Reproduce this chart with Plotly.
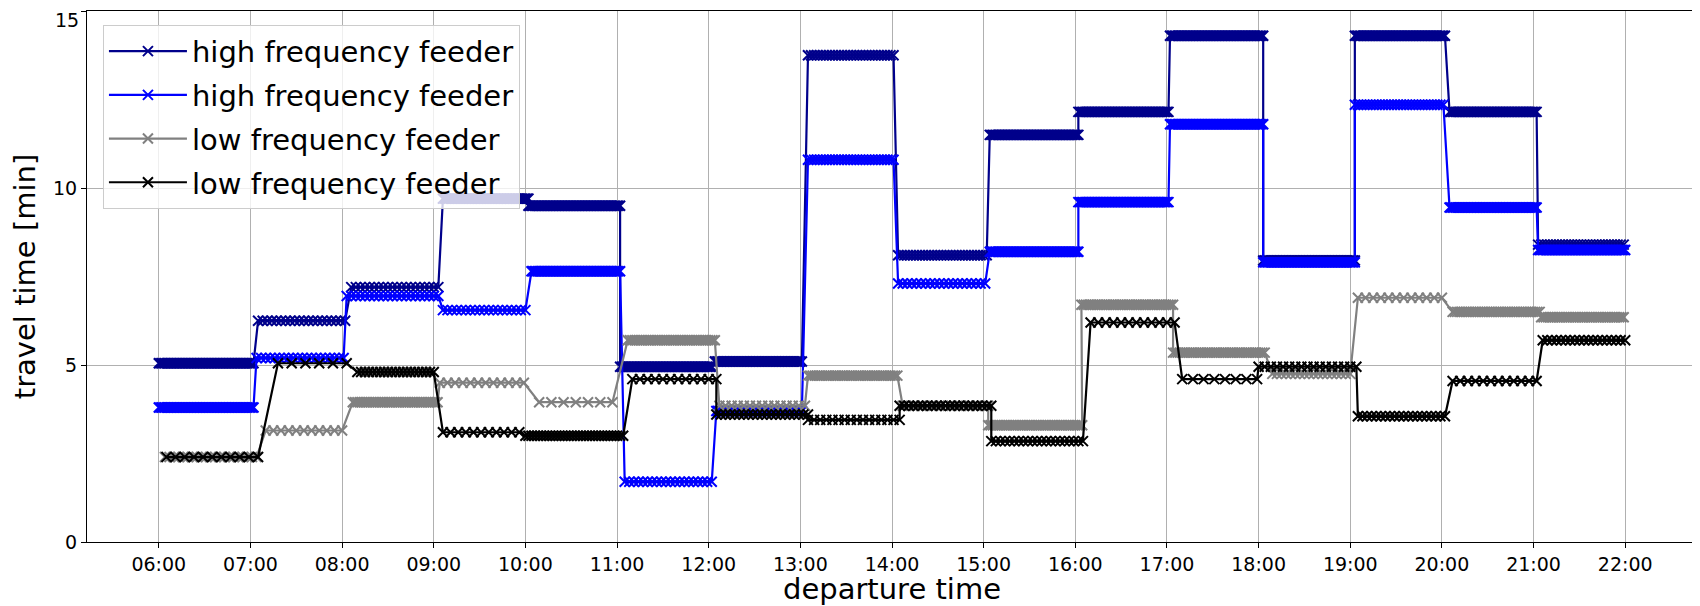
import plotly.graph_objects as go
import pandas as pd

# ---------------- data ----------------
HOURS = list(range(6, 22))  # hourly blocks 06:00 ... 21:00
TICK_LABELS = [f"{h:02d}:00" for h in range(6, 23)]
Y_TICKS = [0, 5, 10, 15]
Y_TICK_LABELS = ["0", "5", "10", "15"]

SERIES_NAMES = ["high frequency feeder", "high frequency feeder",
                "low frequency feeder", "low frequency feeder"]
SERIES_COLORS = ["#00008B", "#0000FF", "#808080", "#000000"]

# travel time level per hourly block [min]
hf1_values = [5.05, 6.25, 7.2, 9.7, 9.5, 4.95, 5.1, 13.75, 8.1, 11.5, 12.15, 14.3, 7.95, 14.3, 12.15, 8.4]
hf2_values = [3.8, 5.2, 6.95, 6.55, 7.65, 1.7, 3.7, 10.8, 7.3, 8.2, 9.6, 11.8, 7.9, 12.35, 9.45, 8.25]
lf1_values = [2.4, 3.15, 3.95, 4.5, 3.95, 5.7, 3.85, 4.7, 3.85, 3.3, 6.7, 5.35, 4.75, 6.9, 6.5, 6.35]
lf2_values = [2.4, 5.05, 4.8, 3.1, 3.0, 4.6, 3.6, 3.45, 3.85, 2.85, 6.2, 4.6, 4.95, 3.55, 4.55, 5.7]

# first / last departure of each block (minutes after the block's hour) and spacing of departures [min]
hf1_first = [0, 5, 6, 6, 2, 2, 4, 5, 4, 4, 2, 2, 3, 3, 5, 3]
hf1_last = [62, 63, 64, 62, 62, 62, 61, 61, 62, 62, 61, 63, 63, 62, 62, 60]
hf1_step = [1, 3, 3, 1, 1, 1, 1, 2, 2, 1, 1, 1, 1, 1, 1, 2]

hf2_first = [0, 4, 3, 6, 4, 5, 5, 5, 4, 4, 2, 2, 3, 3, 5, 3]
hf2_last = [62, 63, 63, 62, 62, 62, 61, 62, 62, 62, 61, 63, 63, 62, 62, 60]
hf2_step = [1, 3, 3, 3, 1, 3, 1, 2, 3, 1, 1, 1, 1, 2, 1, 1]

lf1_first = [4, 10, 7, 4, 9, 7, 7, 5, 7, 3, 4, 4, 9, 5, 7, 5]
lf1_last = [64, 64, 63, 63, 64, 65, 63, 64, 63, 65, 64, 65, 62, 64, 64, 60]
lf1_step = [3, 5, 1.5, 5, 8, 1.5, 4, 1.5, 4, 1.5, 1.5, 1.5, 3, 5, 1.5, 1.5]

lf2_first = [5, 18, 10, 6, 0, 10, 5, 5, 5, 5, 10, 10, 0, 5, 7, 6]
lf2_last = [68, 65, 60, 60, 64, 65, 65, 65, 65, 65, 65, 60, 65, 62, 62, 60]
lf2_step = [6, 9, 2.5, 5, 2, 5, 3, 4, 3, 3, 5, 7, 4, 3, 5, 3]

SERIES = [
    (hf1_values, hf1_first, hf1_last, hf1_step),
    (hf2_values, hf2_first, hf2_last, hf2_step),
    (lf1_values, lf1_first, lf1_last, lf1_step),
    (lf2_values, lf2_first, lf2_last, lf2_step),
]

BASE_DAY = pd.Timestamp("2020-01-01")


def expand(values, first, last, step):
    xs, ys = [], []
    for h, v, a, b, s in zip(HOURS, values, first, last, step):
        m = float(a)
        while m <= b + 1e-9:
            xs.append(BASE_DAY + pd.Timedelta(hours=h, minutes=m))
            ys.append(v)
            m += s
    return xs, ys


fig = go.Figure()
for i, ((vals, fi, la, st), name, col) in enumerate(zip(SERIES, SERIES_NAMES, SERIES_COLORS)):
    xs, ys = expand(vals, fi, la, st)
    fig.add_trace(go.Scatter(
        x=xs, y=ys, name=name, mode="lines+markers",
        line=dict(color=col, width=2.2),
        marker=dict(symbol="x-thin", size=10, color=col, line=dict(color=col, width=2)),
        legendgroup=f"g{i}",
    ))

tickvals = [BASE_DAY + pd.Timedelta(hours=h) for h in range(6, 23)]
x_lo = BASE_DAY + pd.Timedelta(hours=5, minutes=13)
x_hi = BASE_DAY + pd.Timedelta(hours=22, minutes=47)

FONT = "DejaVu Sans"
TICK_FONT = dict(size=19, family=FONT, color="black")

# the top y tick label sits at the very edge of the page: draw it as an annotation kept inside the page
y_ticktext = Y_TICK_LABELS[:-1] + [""]
fig.add_annotation(
    x=0, xref="paper", xanchor="right", xshift=-7,
    y=1, yref="paper", yanchor="top", yshift=3,
    text=Y_TICK_LABELS[-1], showarrow=False, font=TICK_FONT, borderpad=0,
)

fig.update_layout(
    width=1692, height=598,
    margin=dict(l=79, r=3, t=3, b=64),
    paper_bgcolor="white", plot_bgcolor="white",
    font=dict(family=FONT, color="black"),
    showlegend=True,
    legend=dict(
        x=0.0099, y=0.974, xanchor="left", yanchor="top",
        bgcolor="rgba(255,255,255,0.8)", bordercolor="#cccccc", borderwidth=1,
        font=dict(family=FONT, size=29, color="black"),
        itemwidth=78, tracegroupgap=3,
    ),
    xaxis=dict(
        type="date", range=[x_lo, x_hi], automargin=False,
        tickmode="array", tickvals=tickvals, ticktext=TICK_LABELS,
        showgrid=True, gridcolor="#b0b0b0", gridwidth=1,
        ticks="outside", ticklen=5, tickcolor="black", tickwidth=1,
        tickfont=TICK_FONT,
        showline=True, linecolor="black", linewidth=1.2, mirror=True,
        zeroline=False,
        title=dict(text="departure time", font=dict(size=29, family=FONT), standoff=9),
    ),
    yaxis=dict(
        range=[0, 15], tickmode="array", tickvals=Y_TICKS, ticktext=y_ticktext,
        automargin=False,
        showgrid=True, gridcolor="#b0b0b0", gridwidth=1,
        ticks="outside", ticklen=5, tickcolor="black", tickwidth=1,
        tickfont=TICK_FONT,
        showline=True, linecolor="black", linewidth=1.2, mirror=True,
        zeroline=False,
        title=dict(text="travel time [min]", font=dict(size=29, family=FONT), standoff=12),
    ),
)

fig.write_html("out.html")
